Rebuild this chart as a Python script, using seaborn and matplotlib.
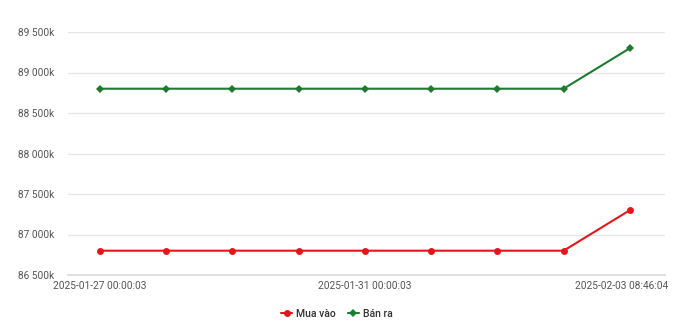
import matplotlib
matplotlib.use("Agg")
import matplotlib.pyplot as plt
import matplotlib.transforms as mtransforms
import seaborn as sns
import pandas as pd
from matplotlib.lines import Line2D

dates = ["2025-01-27 00:00:03", "2025-01-28 00:00:03", "2025-01-29 00:00:03",
         "2025-01-30 00:00:03", "2025-01-31 00:00:03", "2025-02-01 00:00:03",
         "2025-02-02 00:00:03", "2025-02-03 00:00:03", "2025-02-03 08:46:04"]
mua_vao = [86800, 86800, 86800, 86800, 86800, 86800, 86800, 86800, 87300]
ban_ra = [88800, 88800, 88800, 88800, 88800, 88800, 88800, 88800, 89300]
series_names = ["Mua vào", "Bán ra"]
y_ticks = [86500, 87000, 87500, 88000, 88500, 89000, 89500]
x_tick_idx = [0, 4, 8]

df = pd.DataFrame({
    "idx": list(range(len(dates))) * 2,
    "value": mua_vao + ban_ra,
    "series": [series_names[0]] * len(dates) + [series_names[1]] * len(dates),
})

sns.set_theme(style="white")
plt.rcParams["font.family"] = ["Roboto", "DejaVu Sans"]

fig = plt.figure(figsize=(6.8, 3.35), dpi=100)
ax = fig.add_axes([68 / 680, 1 - 275 / 335, (665 - 68) / 680, (275 - 32) / 335])

palette = {"Mua vào": "#e5161b", "Bán ra": "#1d7a30"}
sns.lineplot(data=df, x="idx", y="value", hue="series", style="series",
             markers={"Mua vào": "o", "Bán ra": "D"}, dashes=False,
             palette=palette, ax=ax, linewidth=1.5, markersize=5,
             markeredgewidth=0, legend=False)
for line in ax.lines:
    if line.get_marker() == "D":
        line.set_markersize(4)

ax.set_xlim(-0.48, 8.53)
ax.set_ylim(86500, 89500)
ax.set_yticks(y_ticks)
ax.set_yticklabels([f"{v // 1000} {v % 1000:03d}k" for v in y_ticks])
ax.set_xticks(x_tick_idx)
ax.set_xticklabels([dates[i] for i in x_tick_idx])
ax.set_xlabel("")
ax.set_ylabel("")
ax.yaxis.grid(True, color="#e6e6e6", linewidth=1)
ax.xaxis.grid(False)
for s in ["top", "right", "left"]:
    ax.spines[s].set_visible(False)
ax.spines["bottom"].set_color("#d8d8d8")
ax.spines["bottom"].set_linewidth(1.2)
ax.tick_params(axis="both", length=0, labelsize=7.3, colors="#555555")
ax.tick_params(axis="y", pad=10)
ax.tick_params(axis="x", pad=4)

labels = ax.get_xticklabels()
labels[-1].set_horizontalalignment("right")
labels[-1].set_transform(labels[-1].get_transform() +
                         mtransforms.ScaledTranslation(38 / 100, 0, fig.dpi_scale_trans))

handles = [Line2D([], [], color=palette[n], marker=m, markersize=ms, markeredgewidth=0, linewidth=1.5)
           for n, m, ms in zip(series_names, ["o", "D"], [5, 4])]
fig.legend(handles, series_names, loc="center", bbox_to_anchor=(337 / 680, 1 - 314 / 335),
           ncol=2, frameon=False, handlelength=1.0, handletextpad=0.4,
           columnspacing=1.2, labelcolor="#333333",
           prop={"family": ["Roboto", "DejaVu Sans"], "size": 7.5, "weight": "medium"})

fig.savefig("out.png", dpi=100)
